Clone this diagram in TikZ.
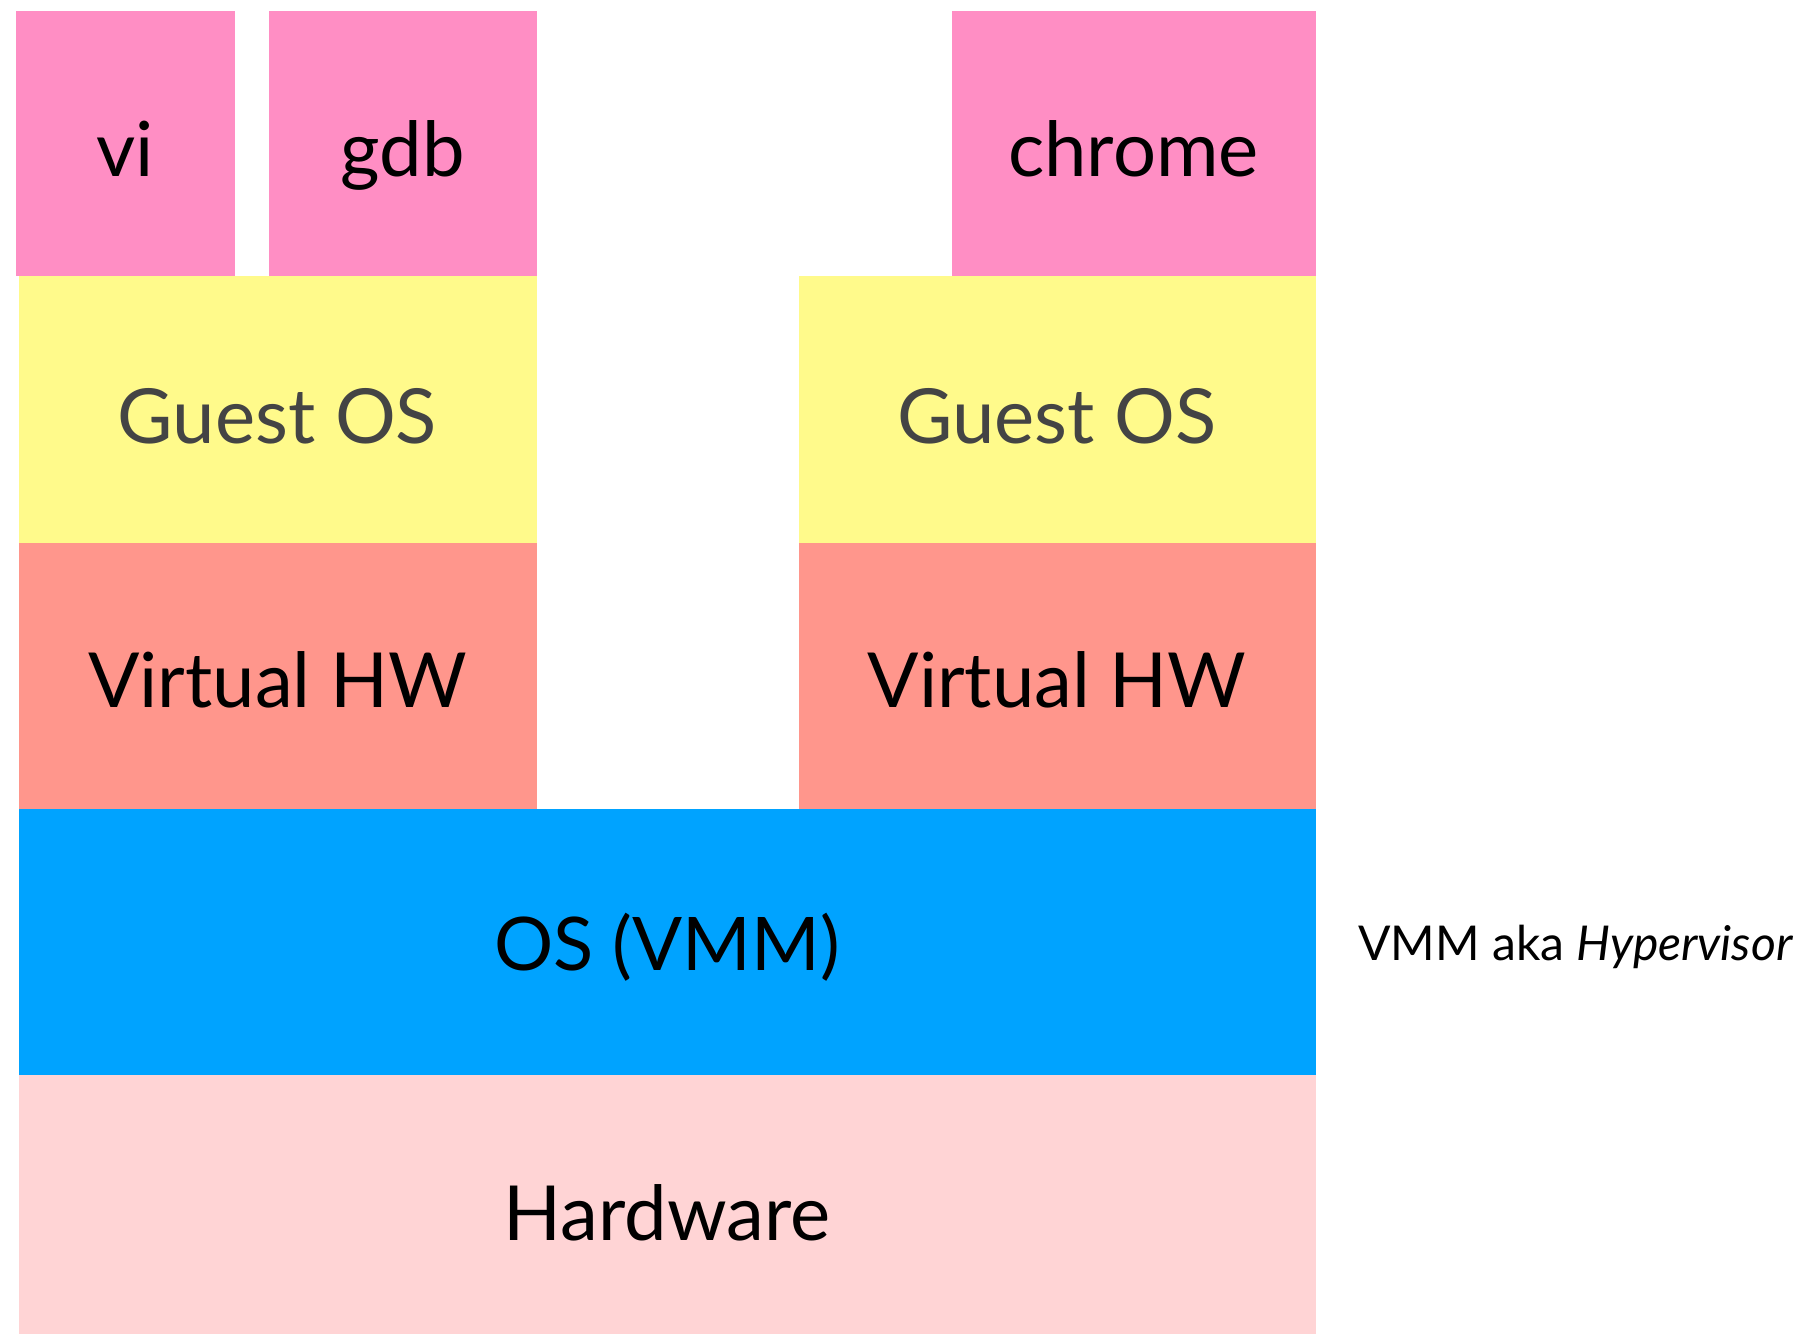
\documentclass[tikz,border=0pt]{standalone}
\usepackage{fontspec}
\setmainfont{Lato}
\usetikzlibrary{fit}
\definecolor{apppink}{HTML}{FF8EC4}
\definecolor{guestyel}{HTML}{FFFA8B}
\definecolor{vhwred}{HTML}{FF968C}
\definecolor{vmmblue}{HTML}{00A3FF}
\definecolor{hwpink}{HTML}{FFD4D5}
\definecolor{guestgray}{HTML}{444444}
\tikzset{
  layer/.style={inner sep=0pt, outer sep=0pt, draw=none},
  app/.style={layer, fill=apppink},
  guest/.style={layer, fill=guestyel},
  vhw/.style={layer, fill=vhwred},
  vmm/.style={layer, fill=vmmblue},
  hw/.style={layer, fill=hwpink},
  lbl/.style={inner sep=0pt, anchor=base, font=\fontsize{76}{80}\selectfont},
  note/.style={inner sep=0pt, anchor=base west, font=\fontsize{48}{52}\selectfont}
}
\begin{document}
\begin{tikzpicture}[x=1pt,y=-1pt]
\useasboundingbox[fill=white] (0,0) rectangle (1817,1334);
% applications
\node[app, fit={(16,10.5) (235,276)}] (vi) {};
\node[app, fit={(269,10.5) (536.5,276)}] (gdb) {};
\node[app, fit={(952,10.5) (1315.5,276)}] (chrome) {};
% guest OSes
\node[guest, fit={(18.5,276) (536.5,542.5)}] (guest1) {};
\node[guest, fit={(798.5,276) (1315.5,542.5)}] (guest2) {};
% virtual hardware
\node[vhw, fit={(18.5,542.5) (536.5,808.5)}] (vhw1) {};
\node[vhw, fit={(798.5,542.5) (1315.5,808.5)}] (vhw2) {};
% VMM
\node[vmm, fit={(18.5,808.5) (1315.5,1075)}] (vmm) {};
% hardware
\node[hw, fit={(18.5,1075) (1315.5,1334)}] (hw) {};
% labels
\node[lbl] (tvi) at (125.5,176) {vi};
\node[lbl] (tgdb) at (402.5,176) {gdb};
\node[lbl] (tchrome) at (1133.5,176) {chrome};
\node[lbl, text=guestgray] (tguest1) at (277.5,443) {Guest OS};
\node[lbl, text=guestgray] (tguest2) at (1057,443) {Guest OS};
\node[lbl] (tvhw1) at (277.5,707) {Virtual HW};
\node[lbl] (tvhw2) at (1057,707) {Virtual HW};
\node[lbl, font=\fontsize{74}{80}\selectfont] (tvmm) at (667,970) {OS (VMM)};
\node[lbl] (thw) at (667,1240) {Hardware};
% note
\node[note] (aka) at (1358,960) {VMM aka \textit{Hypervisor}};
\end{tikzpicture}
\end{document}
